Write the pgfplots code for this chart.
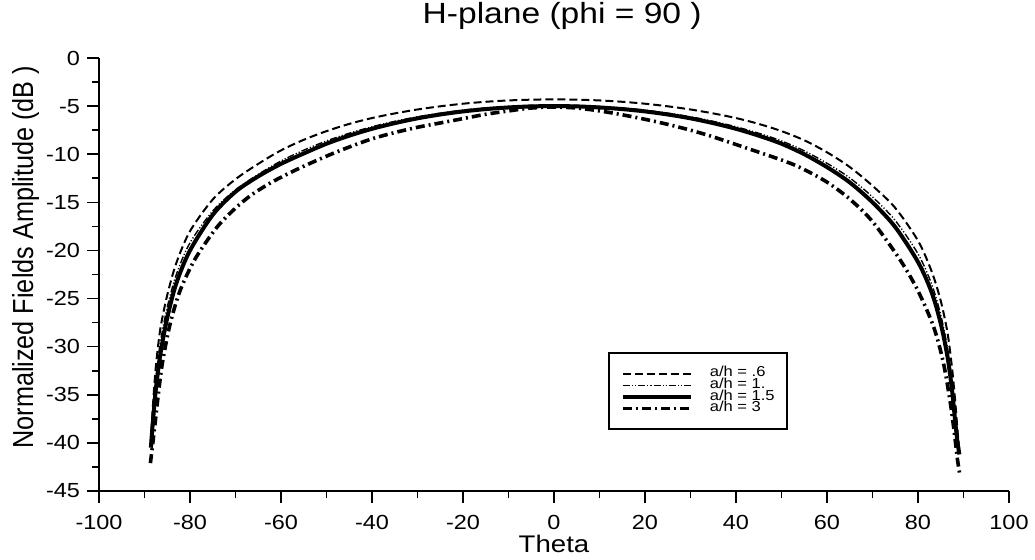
\documentclass[border=0pt]{standalone}
\usepackage{fontspec}
\setmainfont{Liberation Sans}
\newfontfamily\ylabfont{Liberation Sans}[FakeStretch=0.87]
\usepackage{graphicx}
\usepackage{pgfplots}
\pgfplotsset{compat=1.18}
\newcommand{\wide}[1]{\scalebox{1.15}[1]{#1}}

\begin{document}
\begin{tikzpicture}
\path[use as bounding box] (-49.5pt,-34pt) rectangle (468pt,245.5pt);
\begin{axis}[
  at={(0pt,0pt)}, anchor=south west,
  scale only axis, width=455pt, height=216.5pt,
  xmin=-100, xmax=100, ymin=-45, ymax=0,
  axis x line*=bottom, axis y line*=left,
  axis line style={line width=0.9pt},
  xtick={-100,-80,...,100}, ytick={-45,-40,...,0},
  minor x tick num=1, minor y tick num=1,
  tick align=outside,
  major tick length=6pt, minor tick length=3.5pt,
  every tick/.style={line width=0.8pt, black},
  /pgf/number format/assume math mode=true,
  xticklabel={\wide{\pgfmathprintnumber{\tick}}},
  yticklabel={\wide{\pgfmathprintnumber{\tick}}},
  tick label style={font=\fontsize{10.2}{11}\selectfont},
  xticklabel style={yshift=-2.5pt},
  title={\wide{H-plane (phi = 90 )}},
  title style={font=\fontsize{14.6}{16}\selectfont, at={(axis description cs:0.509,1.053)}, anchor=base},
  xlabel={\wide{Theta}},
  xlabel style={font=\fontsize{12}{13}\selectfont, at={(axis description cs:0.5,-0.141)}, anchor=base},
  ylabel={\ylabfont Normalized Fields Amplitude (dB )},
  ylabel style={font=\fontsize{14.5}{16}\selectfont, at={(axis description cs:-0.0725,0.54)}, anchor=base},
  legend image code/.code={\draw[#1] (0pt,0pt) -- (34pt,0pt); \path (42.5pt,0pt);},
  legend cell align=left,
  legend style={at={(axis description cs:0.559,0.321)}, anchor=north west,
    draw=black, line width=1.1pt, inner xsep=6pt, inner ysep=7.3pt,
    font=\fontsize{7.2}{7.5}\selectfont,
    nodes={inner sep=0pt, text height=4.5pt, text depth=1.35pt}},
]
\addplot[black, smooth, line width=1.0pt, dash pattern=on 4pt off 2pt] coordinates {
(-88.6,-40.0) (-88.2,-36.5) (-87.5,-32.05) (-86.5,-28.1) (-85,-24.64) (-83,-21.3)
(-80,-18.0) (-75,-14.7) (-70,-12.6) (-65,-11.0) (-60,-9.6) (-55,-8.5) (-50,-7.6)
(-45,-6.85) (-40,-6.24) (-35,-5.76) (-30,-5.35) (-25,-5.02) (-20,-4.75) (-15,-4.55)
(-10,-4.41) (-5,-4.33) (0,-4.3) (5,-4.33) (10,-4.41) (15,-4.55) (20,-4.75) (25,-5.02)
(30,-5.35) (35,-5.76) (40,-6.24) (45,-6.85) (50,-7.6) (55,-8.55) (60,-9.8) (65,-11.33)
(70,-13.28) (75,-15.58) (80,-18.99) (83,-22.18) (85,-25.24) (86.5,-28.6) (87.5,-32.3)
(88.2,-35.8) (88.7,-38.8) (89.1,-40.8)
};
\addlegendentry{\wide{a/h = .6}}
\addplot[black, smooth, line width=0.7pt, dash pattern=on 3.5pt off 1pt on 0.6pt off 1pt on 0.6pt off 1pt] coordinates {
(-88.6,-40.2) (-88.2,-37.0) (-87.5,-33.2) (-86.5,-29.5) (-85,-25.9) (-83,-22.5)
(-80,-19.2) (-75,-15.9) (-70,-13.7) (-65,-12.1) (-60,-10.7) (-55,-9.58) (-50,-8.62)
(-45,-7.82) (-40,-7.15) (-35,-6.58) (-30,-6.11) (-25,-5.73) (-20,-5.42) (-15,-5.19)
(-10,-5.03) (-5,-4.93) (0,-4.9) (5,-4.93) (10,-5.03) (15,-5.19) (20,-5.42) (25,-5.73)
(30,-6.11) (35,-6.58) (40,-7.15) (45,-7.82) (50,-8.62) (55,-9.65) (60,-10.94) (65,-12.46)
(70,-14.44) (75,-16.89) (80,-20.35) (83,-23.5) (85,-26.7) (86.5,-30.2) (87.5,-33.8)
(88.2,-37.3) (88.7,-39.8) (89.1,-41.0)
};
\addlegendentry{\wide{a/h = 1.}}
\addplot[black, smooth, line width=2pt] coordinates {
(-88.6,-40.5) (-88.2,-38.07) (-87.5,-34.4) (-86.5,-30.75) (-85,-27.0) (-83,-23.4)
(-80,-20.0) (-75,-16.3) (-70,-13.9) (-65,-12.3) (-60,-11.0) (-55,-9.92) (-50,-8.91)
(-45,-8.07) (-40,-7.36) (-35,-6.77) (-30,-6.27) (-25,-5.87) (-20,-5.55) (-15,-5.31)
(-10,-5.14) (-5,-5.03) (0,-5.0) (5,-5.03) (10,-5.14) (15,-5.31) (20,-5.55) (25,-5.87)
(30,-6.27) (35,-6.77) (40,-7.36) (45,-8.07) (50,-8.91) (55,-10.0) (60,-11.34) (65,-12.93)
(70,-15.0) (75,-17.57) (80,-21.2) (83,-24.35) (85,-27.6) (86.5,-31.1) (87.5,-34.6)
(88.2,-37.9) (88.7,-40.0) (89.1,-41.2)
};
\addlegendentry{\wide{a/h = 1.5}}
\addplot[black, smooth, line width=1.8pt, dash pattern=on 4.5pt off 2pt on 1pt off 2pt] coordinates {
(-88.7,-42.1) (-87.8,-38.5) (-86.9,-34.7) (-86,-31.5) (-84.4,-27.7) (-82.2,-24.2)
(-78.9,-20.9) (-74.1,-17.6) (-70,-15.6) (-66.4,-14.2) (-62,-12.9) (-56.6,-11.6)
(-50,-10.2) (-45,-9.25) (-40,-8.4) (-35,-7.75) (-30,-7.2) (-25,-6.75) (-20,-6.3)
(-15,-5.85) (-10,-5.5) (-5,-5.2) (0,-5.1) (5,-5.2) (10,-5.5) (15,-5.9) (21.3,-6.5)
(25,-6.9) (30,-7.5) (35,-8.2) (43.2,-9.5) (50,-10.6) (54.2,-11.4) (60,-12.9)
(65.1,-14.7) (70,-17.0) (76.1,-21.0) (80,-24.2) (83.4,-27.9) (85.5,-31.5)
(87,-35.5) (88,-39.0) (88.7,-41.8) (89.2,-43.3)
};
\addlegendentry{\wide{a/h = 3}}
\end{axis}
\end{tikzpicture}
\end{document}
